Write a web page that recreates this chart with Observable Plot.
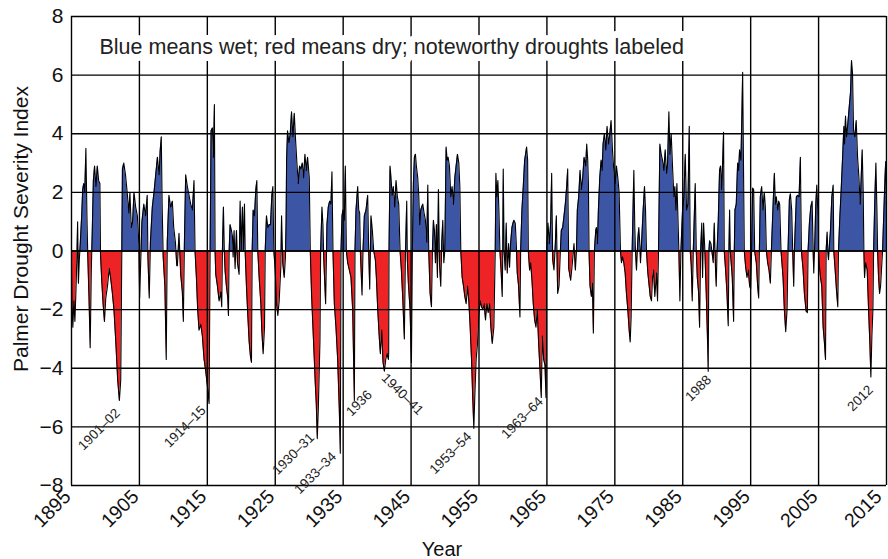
<!DOCTYPE html>
<html>
<head>
<meta charset="utf-8">
<script src="https://cdn.jsdelivr.net/npm/d3@7"></script>
<script src="https://cdn.jsdelivr.net/npm/@observablehq/plot@0.6"></script>
<style>
  html, body { margin: 0; padding: 0; background: #ffffff; }
  #chart { width: 888px; height: 559px; }
</style>
</head>
<body>
<div id="chart"></div>
<script>
// ---- Palmer Drought Severity Index: [year, value] ----
const pdsi1895 = [[1895.00,-0.5],[1895.08,-1.9],[1895.20,-2.6],[1895.35,-1.7],[1895.50,-2.4],[1895.65,-1.4],[1895.80,-0.2],[1895.90,1.0],[1896.02,-1.1],[1896.15,-0.3],[1896.30,0.3],[1896.50,1.2],[1896.65,2.1],[1896.80,2.3],[1896.95,2.0],[1897.12,3.5],[1897.28,1.1],[1897.40,-0.2],[1897.58,-1.6],[1897.75,-3.3],[1897.92,-0.6],[1898.05,0.6],[1898.22,2.4],[1898.40,2.9],[1898.60,2.2],[1898.80,2.9],[1899.00,2.4],[1899.18,2.3],[1899.27,-0.1],[1899.45,-1.0],[1899.65,-1.8],[1899.85,-2.4],[1900.05,-1.6],[1900.30,-1.2],[1900.55,-0.6],[1900.75,-0.9],[1901.00,-1.4],[1901.25,-2.0],[1901.50,-3.0],[1901.80,-4.4],[1902.05,-5.1],[1902.25,-4.4],[1902.40,-0.2],[1902.50,2.8],[1902.70,3.0],[1902.95,2.6],[1903.20,2.0],[1903.45,1.3],[1903.60,2.0],[1903.80,0.8],[1904.00,1.0],[1904.20,2.0],[1904.45,1.5],[1904.70,1.2],[1904.93,0.2],[1905.03,-1.6],[1905.20,-0.3],[1905.37,1.0],[1905.65,1.6],[1905.90,1.2],[1906.15,1.9],[1906.25,-0.2],[1906.45,-1.6],[1906.62,0.3],[1906.90,1.5],[1907.15,2.0],[1907.40,2.6],[1907.65,3.2],[1907.90,2.6],[1908.05,3.4],[1908.22,3.9],[1908.35,1.5],[1908.50,-0.2],[1908.75,-1.2],[1908.95,-3.7],[1909.10,0.3],[1909.35,1.9],[1909.60,1.5],[1909.85,1.7],[1910.05,0.8],[1910.30,0.3],[1910.50,-0.5]];

const pdsi1910 = [[1910.59,-0.5],[1910.83,0.6],[1911.08,-0.8],[1911.32,-1.4],[1911.47,-2.4],[1911.62,0.2],[1911.81,2.6],[1912.06,2.2],[1912.31,1.9],[1912.55,1.6],[1912.80,1.4],[1913.04,2.4],[1913.19,0.0],[1913.39,-0.9],[1913.58,-2.0],[1913.78,-2.7],[1914.03,-2.5],[1914.27,-2.9],[1914.52,-3.7],[1914.76,-4.1],[1915.01,-4.6],[1915.26,-5.2],[1915.40,-0.3],[1915.55,4.1],[1915.75,4.2],[1915.90,3.2],[1916.04,5.0],[1916.14,0.0],[1916.24,-0.8],[1916.49,-1.2],[1916.73,-1.7],[1916.98,-1.4],[1917.12,-1.9],[1917.22,0.0],[1917.37,1.5],[1917.50,0.0],[1917.62,-0.7],[1917.81,-1.2],[1918.01,-1.6],[1918.11,-2.2],[1918.21,0.0],[1918.35,0.9],[1918.55,0.7],[1918.70,0.5],[1918.80,-0.2],[1918.94,0.7],[1919.09,-0.6],[1919.29,0.7],[1919.44,-0.4],[1919.68,-0.8],[1919.83,1.7],[1919.98,0.0],[1920.17,1.5],[1920.32,0.0],[1920.47,1.6],[1920.57,0.0],[1920.76,-1.2],[1920.96,-2.2],[1921.16,-3.1],[1921.35,-3.6],[1921.50,-3.8],[1921.60,0.0],[1921.75,1.4],[1921.94,1.2],[1922.14,2.1],[1922.29,2.4],[1922.43,0.0],[1922.63,-0.9],[1922.88,-1.8],[1923.02,-2.7],[1923.22,-3.5],[1923.42,-2.6],[1923.52,0.0],[1923.71,1.2],[1923.91,0.8],[1924.11,0.9],[1924.30,0.9],[1924.50,1.9],[1924.65,2.2],[1924.79,0.0],[1924.99,-0.6],[1925.19,-1.8],[1925.38,-2.2],[1925.58,-1.7],[1925.83,-0.5]];

const pdsi1926 = [[1925.93,1.2],[1926.10,-0.4],[1926.32,-0.9],[1926.50,-0.2],[1926.60,1.0],[1926.67,3.1],[1926.81,4.1],[1927.01,3.7],[1927.21,4.0],[1927.40,4.75],[1927.60,3.9],[1927.80,4.7],[1927.99,3.8],[1928.19,3.0],[1928.39,2.3],[1928.58,2.9],[1928.78,2.8],[1928.98,3.0],[1929.17,2.5],[1929.37,3.3],[1929.57,2.75],[1929.76,3.2],[1930.01,2.5],[1930.16,0.0],[1930.35,-1.5],[1930.55,-2.6],[1930.75,-3.7],[1930.89,-4.5],[1931.04,-5.2],[1931.19,-6.4],[1931.34,-5.4],[1931.58,-3.1],[1931.68,0.0],[1931.88,1.5],[1932.02,0.9],[1932.15,-0.3],[1932.42,-1.8],[1932.55,0.0],[1932.61,0.9],[1932.81,1.5],[1933.01,1.7],[1933.20,1.6],[1933.35,2.7],[1933.50,0.0],[1933.70,-1.8],[1933.94,-2.6],[1934.19,-3.7],[1934.43,-5.4],[1934.58,-6.9],[1934.68,0.0],[1934.83,1.2],[1934.97,1.4],[1935.17,1.05],[1935.32,2.9],[1935.47,0.0],[1935.66,-0.4],[1935.91,-0.65],[1936.15,-0.9],[1936.40,-2.0],[1936.65,-5.1],[1936.74,0.0],[1936.89,1.4],[1937.14,2.2],[1937.29,1.4],[1937.43,1.3],[1937.53,0.0],[1937.78,-1.5],[1937.92,0.0],[1938.12,1.2],[1938.37,1.4],[1938.61,1.9],[1938.76,0.0],[1938.91,-1.3],[1939.10,1.2],[1939.30,0.7],[1939.50,0.0],[1939.74,-0.3],[1939.89,-0.9],[1940.09,-2.0],[1940.33,-3.0],[1940.48,-3.5],[1940.68,-2.7],[1940.87,-3.8],[1941.07,-4.1],[1941.27,-3.7],[1941.46,-3.5],[1941.66,-3.7]];

const pdsi1941 = [[1941.70,-3.5],[1941.75,0.0],[1941.90,2.9],[1942.05,2.5],[1942.20,1.9],[1942.39,2.2],[1942.59,1.5],[1942.79,2.4],[1942.98,1.85],[1943.18,1.6],[1943.38,0.0],[1943.57,-0.65],[1943.77,-1.6],[1944.01,-3.0],[1944.16,-0.2],[1944.36,1.7],[1944.45,-0.3],[1944.60,-1.1],[1944.85,-2.0],[1945.05,-3.8],[1945.19,0.0],[1945.34,2.3],[1945.49,3.2],[1945.64,3.3],[1945.78,2.9],[1945.98,2.5],[1946.13,1.9],[1946.28,0.9],[1946.42,1.4],[1946.57,1.5],[1946.72,1.6],[1946.91,1.3],[1947.11,1.05],[1947.31,0.3],[1947.46,2.25],[1947.60,0.0],[1947.80,-1.45],[1948.00,-1.9],[1948.14,0.0],[1948.29,1.05],[1948.44,0.7],[1948.59,-0.4],[1948.73,0.9],[1948.88,-0.9],[1949.03,2.1],[1949.18,-0.4],[1949.37,-1.2],[1949.52,0.3],[1949.67,1.05],[1949.82,-0.4],[1949.96,0.0],[1950.16,3.55],[1950.31,3.1],[1950.45,3.2],[1950.65,2.9],[1950.85,1.85],[1951.04,2.2],[1951.24,1.6],[1951.44,2.5],[1951.63,2.9],[1951.83,3.3],[1952.03,3.0],[1952.18,2.2],[1952.32,0.0],[1952.52,-0.9],[1952.72,-1.2],[1952.91,-1.55],[1953.11,-1.8],[1953.31,-1.2],[1953.50,-1.7],[1953.70,-2.6],[1953.90,-3.7],[1954.09,-5.1],[1954.24,-6.05],[1954.39,-4.9],[1954.58,-3.7],[1954.78,-3.15],[1954.98,-2.2],[1955.17,-1.7],[1955.37,-1.9],[1955.57,-2.0],[1955.76,-1.8],[1955.96,-2.35],[1956.16,-1.8],[1956.35,-2.1],[1956.55,-1.8],[1956.75,-2.6]];

const pdsi1957 = [[1956.95,-3.15],[1957.19,-2.6],[1957.39,0.0],[1957.49,2.65],[1957.64,1.85],[1957.78,2.4],[1957.93,1.4],[1958.08,0.0],[1958.27,-0.75],[1958.42,-1.55],[1958.50,0.0],[1958.57,2.8],[1958.70,0.0],[1958.86,-0.65],[1959.01,0.95],[1959.16,-0.75],[1959.36,0.25],[1959.50,-0.55],[1959.65,0.25],[1959.85,0.8],[1960.00,0.95],[1960.14,1.05],[1960.34,0.95],[1960.49,0.25],[1960.63,-0.75],[1960.83,-1.2],[1961.03,-2.25],[1961.13,0.0],[1961.32,1.4],[1961.52,2.2],[1961.72,3.1],[1961.86,3.3],[1962.01,3.55],[1962.16,3.1],[1962.26,0.0],[1962.45,-0.65],[1962.60,-0.4],[1962.80,-1.0],[1962.99,-1.8],[1963.19,-2.35],[1963.39,-2.6],[1963.58,-2.0],[1963.78,-3.15],[1963.98,-4.05],[1964.17,-5.0],[1964.32,-2.9],[1964.52,-3.7],[1964.72,-3.9],[1964.86,-5.0],[1964.96,0.0],[1965.16,0.95],[1965.35,0.25],[1965.55,0.95],[1965.70,2.65],[1965.85,-0.3],[1966.04,-0.65],[1966.24,0.25],[1966.39,1.2],[1966.58,-1.45],[1966.78,-1.2],[1966.98,0.0],[1967.12,0.7],[1967.32,0.8],[1967.52,1.2],[1967.71,1.6],[1967.91,2.2],[1968.06,2.8],[1968.21,-0.6],[1968.50,-1.0],[1968.75,-0.4],[1968.99,0.25],[1969.19,-0.65],[1969.35,0.0],[1969.48,1.4],[1969.68,1.85],[1969.88,2.75],[1970.07,2.1],[1970.27,2.5],[1970.47,3.2],[1970.71,2.9],[1970.86,3.65],[1971.01,3.1],[1971.11,2.3],[1971.20,0.0],[1971.35,-1.2],[1971.55,-1.55],[1971.70,-1.1],[1971.84,-2.8],[1971.99,0.0],[1972.19,0.7]];

const pdsi1972 = [[1972.29,0.8],[1972.44,0.25],[1972.58,1.4],[1972.78,2.5],[1972.98,3.1],[1973.13,2.75],[1973.27,3.65],[1973.47,4.0],[1973.67,3.45],[1973.86,4.25],[1974.06,3.65],[1974.26,4.0],[1974.45,4.45],[1974.65,3.45],[1974.85,2.75],[1975.04,2.3],[1975.24,2.9],[1975.44,2.5],[1975.63,2.0],[1975.83,0.0],[1975.98,-0.4],[1976.12,-0.2],[1976.32,-0.4],[1976.52,-0.75],[1976.71,-1.45],[1976.91,-2.0],[1977.11,-2.7],[1977.26,-3.1],[1977.40,-2.25],[1977.55,0.0],[1977.80,2.75],[1977.94,0.8],[1978.04,0.0],[1978.19,-0.65],[1978.39,0.4],[1978.53,0.8],[1978.68,0.25],[1978.78,-0.4],[1978.93,0.25],[1979.17,1.4],[1979.37,2.2],[1979.52,1.4],[1979.66,0.0],[1979.86,-0.75],[1980.06,-1.2],[1980.21,-1.55],[1980.40,-1.7],[1980.55,-0.9],[1980.70,-0.65],[1980.89,-1.55],[1981.14,-0.75],[1981.29,-1.7],[1981.43,0.0],[1981.63,3.65],[1981.83,3.3],[1982.02,3.1],[1982.22,2.75],[1982.42,3.45],[1982.61,2.65],[1982.76,2.95],[1982.96,4.75],[1983.11,3.3],[1983.30,4.0],[1983.50,2.85],[1983.70,1.85],[1983.84,2.2],[1983.99,1.4],[1984.14,2.3],[1984.29,1.15],[1984.43,0.0],[1984.58,-1.7],[1984.73,0.0],[1984.97,1.4],[1985.17,1.85],[1985.37,3.3],[1985.56,1.4],[1985.76,1.6],[1985.96,4.25],[1986.10,0.0],[1986.25,-0.5],[1986.40,-1.7],[1986.55,0.0],[1986.84,2.3],[1986.99,0.0],[1987.14,-0.9],[1987.33,-1.4],[1987.48,-2.6],[1987.63,0.0],[1987.80,0.95]];

const pdsi1988 = [[1987.92,-0.9],[1988.07,0.95],[1988.26,0.0],[1988.46,-1.45],[1988.66,-3.15],[1988.75,-4.1],[1988.85,0.0],[1988.95,0.35],[1989.15,0.25],[1989.34,-0.1],[1989.49,-0.4],[1989.64,0.95],[1989.83,-0.65],[1989.93,-1.2],[1990.05,0.0],[1990.23,1.05],[1990.42,2.75],[1990.57,2.9],[1990.72,2.1],[1990.87,3.0],[1991.01,4.05],[1991.11,0.0],[1991.31,-0.65],[1991.51,-1.45],[1991.70,-2.55],[1991.80,0.0],[1991.90,1.4],[1992.00,0.0],[1992.29,-0.9],[1992.49,-2.4],[1992.59,0.0],[1992.69,1.4],[1992.88,1.6],[1993.08,3.0],[1993.23,2.75],[1993.37,3.45],[1993.57,3.1],[1993.72,4.8],[1993.82,6.1],[1993.96,2.5],[1994.06,0.0],[1994.26,-0.55],[1994.46,-0.9],[1994.65,-0.65],[1994.85,-1.2],[1995.00,-1.3],[1995.14,0.0],[1995.29,2.15],[1995.44,2.1],[1995.59,0.0],[1995.64,-0.1],[1995.83,-0.4],[1996.03,-1.2],[1996.18,-1.6],[1996.28,0.0],[1996.42,1.85],[1996.62,2.2],[1996.82,1.4],[1997.01,2.0],[1997.16,1.5],[1997.31,0.0],[1997.50,-0.4],[1997.70,-0.65],[1997.90,-1.1],[1998.05,0.0],[1998.29,1.5],[1998.49,2.65],[1998.64,1.6],[1998.78,1.85],[1998.98,1.4],[1999.13,1.7],[1999.27,1.6],[1999.47,0.0],[1999.77,-0.9],[1999.96,-2.0],[2000.16,-2.75],[2000.36,-2.0],[2000.50,0.0],[2000.70,1.75],[2000.85,1.95],[2001.04,1.4],[2001.19,0.0],[2001.34,-1.2],[2001.44,0.0]];

const pdsi2001 = [[2001.73,1.85],[2001.93,1.9],[2002.13,1.85],[2002.32,3.2],[2002.47,0.0],[2002.72,-0.65],[2002.91,-1.45],[2003.16,-2.05],[2003.35,-2.1],[2003.45,0.0],[2003.65,0.95],[2003.85,1.5],[2004.05,1.7],[2004.20,0.0],[2004.29,-0.75],[2004.44,0.25],[2004.59,1.6],[2004.74,2.25],[2004.88,1.4],[2004.98,0.0],[2005.08,-0.4],[2005.28,-0.9],[2005.47,-1.2],[2005.67,-2.6],[2005.87,-3.15],[2006.02,-3.7],[2006.11,0.0],[2006.26,0.65],[2006.36,0.0],[2006.46,-0.3],[2006.61,0.25],[2006.75,0.7],[2006.95,1.85],[2007.15,2.25],[2007.24,0.0],[2007.44,-0.65],[2007.64,-1.35],[2007.83,-1.9],[2007.93,0.0],[2008.13,1.15],[2008.33,2.1],[2008.52,3.1],[2008.72,4.25],[2008.82,3.65],[2008.97,4.6],[2009.11,3.9],[2009.31,4.35],[2009.51,4.9],[2009.70,5.4],[2009.85,6.5],[2010.00,6.05],[2010.15,4.1],[2010.34,3.9],[2010.54,4.45],[2010.74,3.2],[2010.93,2.55],[2011.13,1.6],[2011.28,2.55],[2011.42,3.45],[2011.57,2.0],[2011.67,0.0],[2011.77,-0.9],[2011.92,-0.4],[2012.16,-0.65],[2012.36,-2.0],[2012.55,-3.15],[2012.70,-4.3],[2012.85,-2.9],[2013.00,-2.0],[2013.10,0.0],[2013.29,1.85],[2013.44,3.0],[2013.59,1.4],[2013.69,0.0],[2013.83,-0.9],[2013.98,-1.45],[2014.13,-1.2],[2014.32,-0.4],[2014.42,0.0],[2014.62,1.4],[2014.78,2.5],[2014.88,3.05],[2015.00,1.6]];

// ---- axis ticks and annotations ----
const xTicks = [1895, 1905, 1915, 1925, 1935, 1945, 1955, 1965, 1975, 1985, 1995, 2005, 2015];
const yTicks = [-8, -6, -4, -2, 0, 2, 4, 6, 8];
const noteText = "Blue means wet; red means dry; noteworthy droughts labeled";
const yTitle = "Palmer Drought Severity Index";
const xTitle = "Year";

const droughtNames  = ["1901–02", "1914–15", "1930–31", "1933–34", "1936", "1940–41", "1953–54", "1963–64", "1988", "2012"];
const droughtYears  = [1901.8, 1914.45, 1930.4, 1933.64, 1938.9, 1941.0, 1953.55, 1964.1, 1988.85, 2012.7];
const droughtValues = [-5.45, -5.36, -6.29, -6.94, -4.83, -4.25, -6.26, -5.06, -4.32, -4.66];
const droughtRotate = [-45, -45, -45, -45, -45, 45, -45, -45, -45, -45];

const BLUE = "#3d55a5";
const RED = "#ee2326";
const FONT = "'Liberation Sans', Arial, Helvetica, sans-serif";

const series = [...pdsi1895, ...pdsi1910, ...pdsi1926, ...pdsi1941, ...pdsi1957, ...pdsi1972, ...pdsi1988, ...pdsi2001]
  .map(([year, value]) => ({year, value}))
  .sort((a, b) => a.year - b.year);

const labels = droughtNames.map((name, i) => ({
  name, year: droughtYears[i], value: droughtValues[i], rotate: droughtRotate[i]
}));
const labelsUp = labels.filter(d => d.rotate < 0);
const labelsDown = labels.filter(d => d.rotate > 0);

const W = 888, H = 559;
const mTop = 16, mBottom = 74, mLeft = 71, mRight = 2;

const minusFmt = d => (d < 0 ? "\u2212" + Math.abs(d) : String(d));

// gradient: blue above zero, red below zero (split exactly at the y-scale's zero)
const gradientDefs = (index, scales) => {
  const yz = scales && scales.y ? scales.y(0) : mTop + (H - mTop - mBottom) / 2;
  const defs = d3.create("svg:defs");
  const g = defs.append("linearGradient")
    .attr("id", "pdsiFill")
    .attr("gradientUnits", "userSpaceOnUse")
    .attr("x1", 0).attr("x2", 0).attr("y1", 0).attr("y2", H);
  g.append("stop").attr("offset", yz / H).attr("stop-color", BLUE);
  g.append("stop").attr("offset", yz / H).attr("stop-color", RED);
  return defs.node();
};

const chart = Plot.plot({
  width: W,
  height: H,
  marginTop: mTop,
  marginBottom: mBottom,
  marginLeft: mLeft,
  marginRight: mRight,
  style: {fontFamily: FONT, fontSize: "19.5px", color: "#111", background: "#ffffff"},
  x: {
    domain: [1895, 2015],
    ticks: xTicks,
    tickFormat: d => String(d),
    tickRotate: -45,
    tickSize: 0,
    tickPadding: 8,
    label: null
  },
  y: {
    domain: [-8, 8],
    ticks: yTicks,
    tickFormat: minusFmt,
    tickSize: 0,
    tickPadding: 8,
    label: null
  },
  marks: [
    gradientDefs,
    Plot.areaY(series, {x: "year", y1: 0, y2: "value", fill: "url(#pdsiFill)", curve: "linear"}),
    Plot.ruleX(xTicks, {stroke: "#000", strokeWidth: 1.4}),
    Plot.ruleY(yTicks, {stroke: "#000", strokeWidth: 1.4}),
    Plot.text([noteText], {
      frameAnchor: "top-left", dx: 28, dy: 31, text: d => d,
      textAnchor: "start", lineAnchor: "middle",
      fontSize: 21.5, fill: "#222", stroke: "#fff", strokeWidth: 14, strokeLinejoin: "round"
    }),
    Plot.lineY(series, {x: "year", y: "value", stroke: "#000", strokeWidth: 1.1, curve: "linear"}),
    Plot.ruleY([0], {stroke: "#000", strokeWidth: 1.5}),
    Plot.text(labelsUp, {
      x: "year", y: "value", text: "name", rotate: -45,
      textAnchor: "end", lineAnchor: "middle", fontSize: 13.5, fill: "#222"
    }),
    Plot.text(labelsDown, {
      x: "year", y: "value", text: "name", rotate: 45,
      textAnchor: "start", lineAnchor: "middle", fontSize: 13.5, fill: "#222"
    }),
    Plot.text([yTitle], {
      frameAnchor: "left", dx: -50, dy: -22, rotate: -90, text: d => d,
      textAnchor: "middle", lineAnchor: "middle", fontSize: 21, fill: "#111"
    }),
    Plot.text([xTitle], {
      frameAnchor: "bottom", dx: -37, dy: 64, text: d => d,
      textAnchor: "middle", lineAnchor: "middle", fontSize: 20, fill: "#111"
    })
  ]
});

// y tick labels are a little larger than the x tick labels in the reference
d3.select(chart).selectAll('g[aria-label="y-axis tick label"], g[aria-label="y-axis"]')
  .attr("font-size", 21);
// nudge the rotated x tick labels slightly left; the last one a bit more so it stays inside the picture
d3.select(chart).selectAll('g[aria-label="x-axis tick label"], g[aria-label="x-axis"]')
  .each(function () {
    const t = this.getAttribute("transform") || "";
    this.setAttribute("transform", "translate(-4,0) " + t);
    const texts = this.querySelectorAll("text");
    if (texts.length) {
      const last = texts[texts.length - 1];
      const lt = last.getAttribute("transform") || "";
      last.setAttribute("transform", "translate(-4,0) " + lt);
    }
  });

document.getElementById("chart").appendChild(chart);
</script>
</body>
</html>
